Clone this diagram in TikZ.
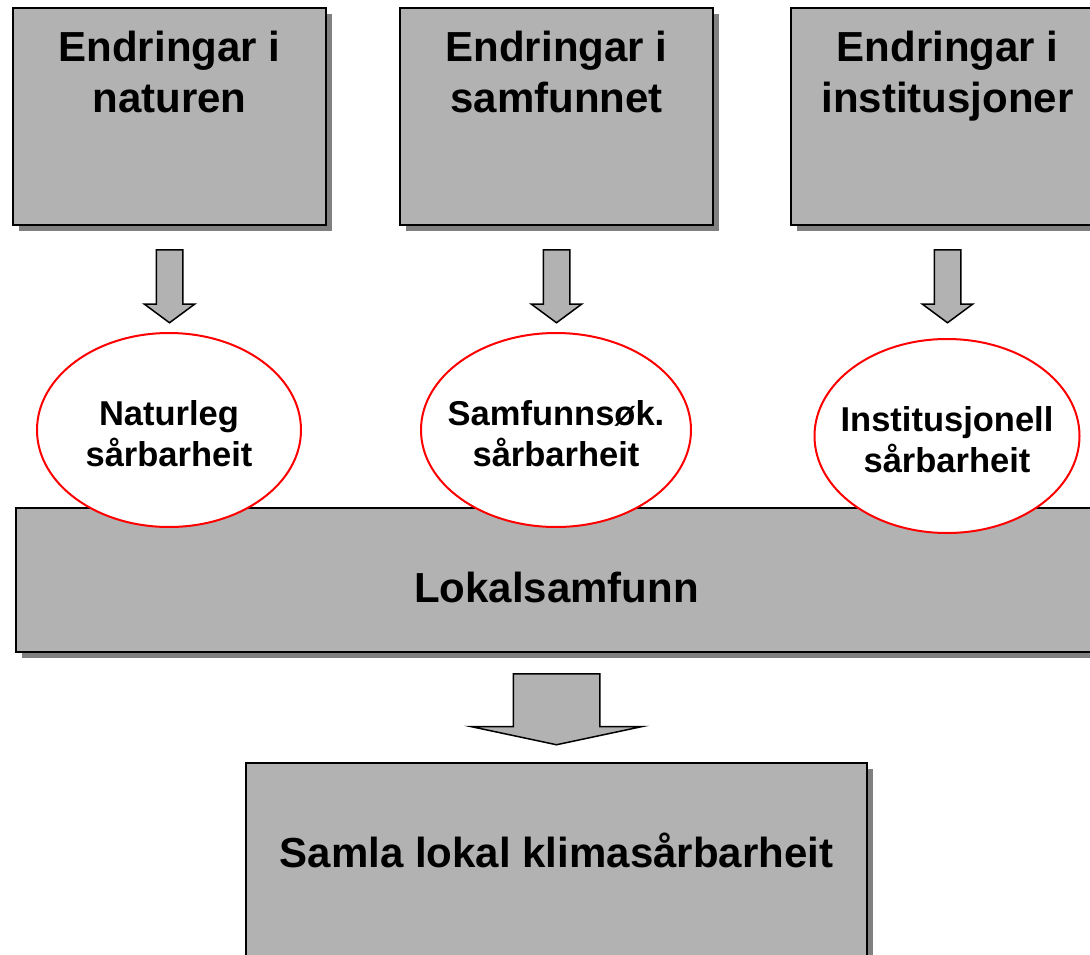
\documentclass[tikz,border=0pt]{standalone}
\usepackage{fontspec}
\setmainfont{Liberation Sans}
\usepackage{tikz}
\usetikzlibrary{positioning,shadows,shapes.arrows,shapes.geometric}

\begin{document}
\begin{tikzpicture}[x=1pt, y=-1pt,
	boks/.style={draw=black, line width=2pt, fill=black!30, inner sep=0pt, drop shadow={shadow xshift=6pt, shadow yshift=-6pt, fill=black!50, opacity=1}},
	sarb/.style={ellipse, draw=red, line width=2pt, fill=white, inner sep=0pt, minimum width=265pt, minimum height=194pt},
	tittel/.style={font=\fontsize{42}{51}\selectfont\bfseries, align=center, inner sep=0pt},
	sarbtekst/.style={font=\fontsize{34.5}{41}\selectfont\bfseries, align=center, inner sep=0pt, yshift=-4pt},
	pil/.style={single arrow, draw=black, line width=1.5pt, fill=black!30, inner ysep=0pt, shape border rotate=270, single arrow head indent=0pt},
	litenpil/.style={pil, inner xsep=12.5pt, minimum height=73pt, single arrow head extend=12pt, single arrow tip angle=107}]
	\useasboundingbox (0,0) rectangle (1090,955);
	\clip (0,0) rectangle (1090,955);
	
	\node[boks, minimum width=313pt, minimum height=217pt] (b1) at (169.5,116.5) {};
	\node[boks, minimum width=313pt, minimum height=217pt] (b2) at (556.5,116.5) {};
	\node[boks, minimum width=313pt, minimum height=217pt] (b3) at (947.5,116.5) {};
	\node[tittel, below=24pt of b1.north] {Endringar i\\naturen};
	\node[tittel, below=24pt of b2.north] {Endringar i\\samfunnet};
	\node[tittel, below=24pt of b3.north] {Endringar i\\institusjoner};
	
	\node[litenpil, below=23pt of b1.south, anchor=tail] (p1) {};
	\node[litenpil, below=23pt of b2.south, anchor=tail] (p2) {};
	\node[litenpil, below=23pt of b3.south, anchor=tail] (p3) {};
	
	\node[boks, minimum width=1081pt, minimum height=144pt] (lok) at (556.5,580) {};
	
	\node[sarb, minimum width=264pt] (e1) at (169,430) {};
	\node[sarb, minimum width=270pt] (e2) at (556,430) {};
	\node[sarb] (e3) at (947,436) {};
	\node[sarbtekst] at (e1) {Naturleg\\sårbarheit};
	\node[sarbtekst] at (e2) {Samfunnsøk.\\sårbarheit};
	\node[sarbtekst] at (e3) {Institusjonell\\sårbarheit};
	
	\node[tittel, below=65pt of lok.north] {Lokalsamfunn};
	
	\node[pil, inner xsep=42.5pt, minimum height=71pt, single arrow head extend=42.5pt, single arrow tip angle=156, below=20pt of lok.south, anchor=tail] (stor) {};
	
	\node[boks, minimum width=621pt, minimum height=197pt] (samla) at (556.5,861.5) {};
	\node[tittel, below=71pt of samla.north] {Samla lokal klimasårbarheit};
\end{tikzpicture}
\end{document}
